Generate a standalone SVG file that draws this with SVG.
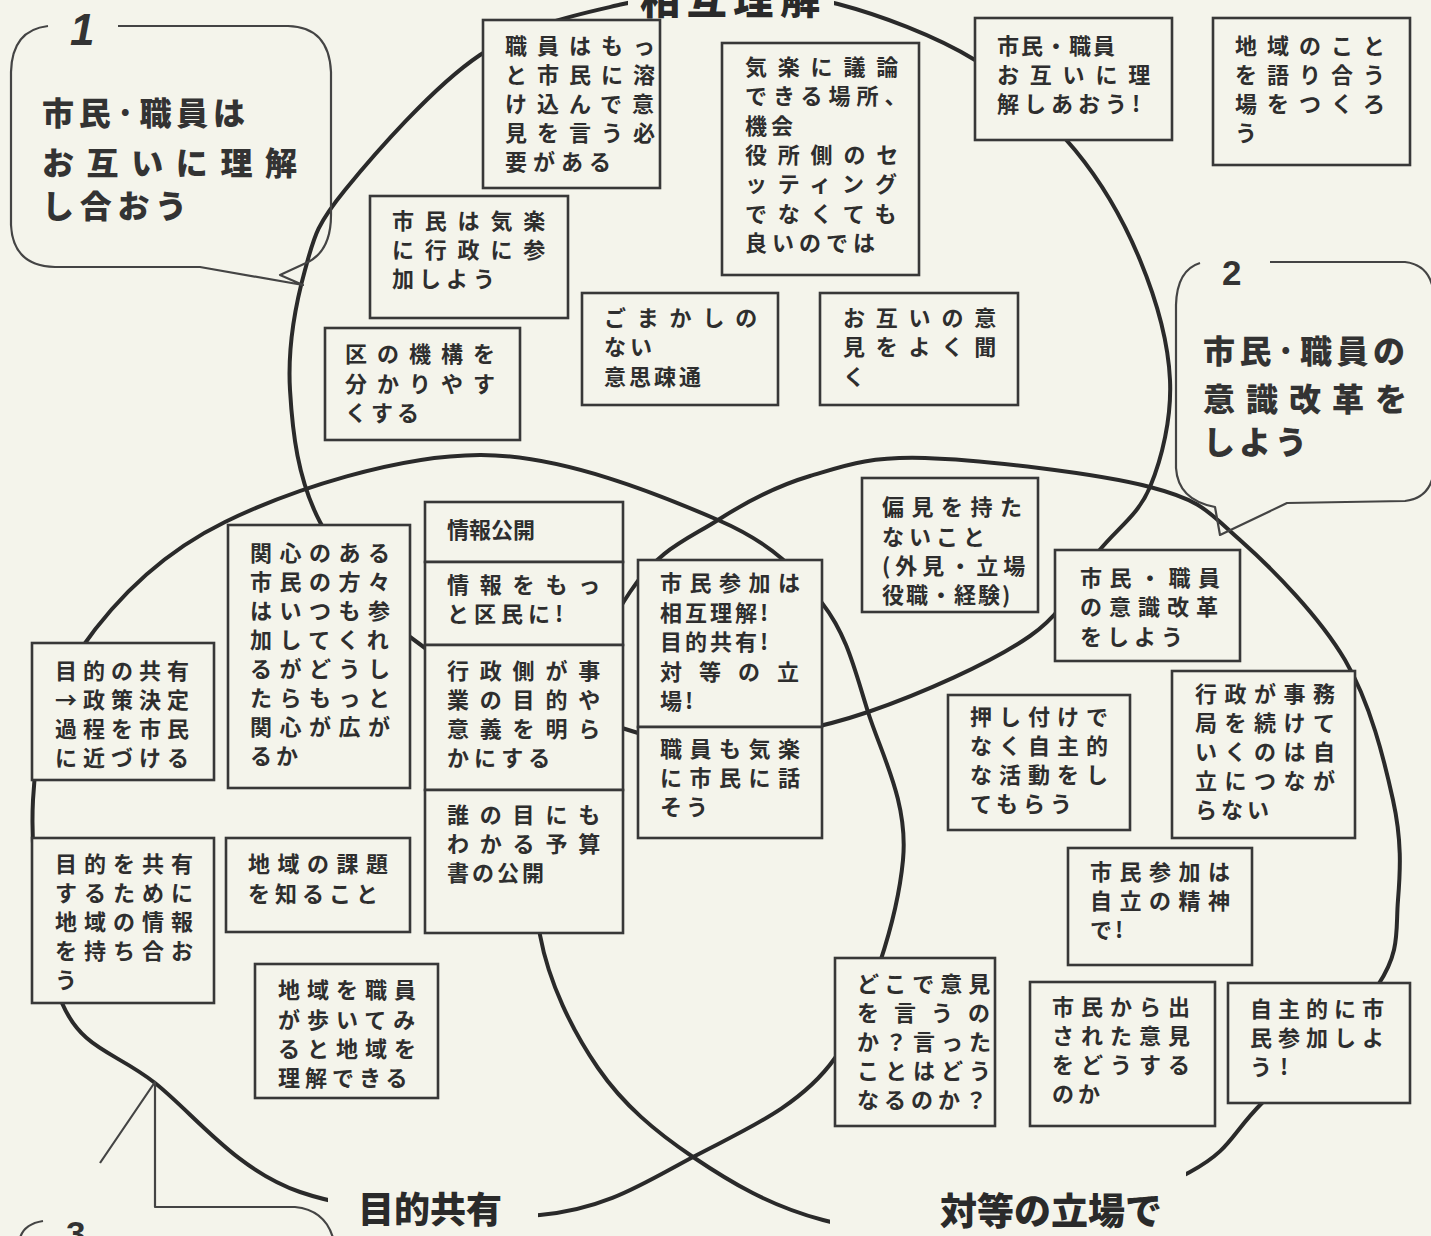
<svg xmlns="http://www.w3.org/2000/svg" width="1431" height="1236" viewBox="0 0 1431 1236">
<defs>
<style>
.bg{fill:#f4f4eb}
.c{fill:none;stroke:#2a2a2a;stroke-width:4;stroke-linecap:round}
.co{fill:none;stroke:#444;stroke-width:2.2;stroke-linejoin:round}
.bx{fill:#f4f4eb;stroke:#383838;stroke-width:2.6}
.t{font-family:"Noto Sans CJK JP","Noto Sans CJK SC",sans-serif;font-size:22px;font-weight:700;fill:#2e2e2e}
.big{font-family:"Noto Sans CJK JP","Noto Sans CJK SC",sans-serif;font-size:32px;font-weight:900;fill:#333}
.lab{font-family:"Noto Sans CJK JP","Noto Sans CJK SC",sans-serif;font-weight:900;fill:#2a2a2a}
.num{font-family:"Liberation Sans",Arial,sans-serif;font-weight:bold;font-style:italic;fill:#333}
.l2{letter-spacing:2px}.l3{letter-spacing:3px}.l4{letter-spacing:4px}.l5{letter-spacing:5px}.l6{letter-spacing:6px}
.l7{letter-spacing:7px}.l75{letter-spacing:7.5px}.l8{letter-spacing:8px}.l10{letter-spacing:10px}.l11{letter-spacing:10.8px}
.l15{letter-spacing:15px}.l17{letter-spacing:17px}
</style>
</defs>
<rect class="bg" x="0" y="0" width="1431" height="1236"/>

<g id="venn-circles">
<path id="circle-mutual" class="c" d="M 730,-4 C 765.8,-4 797.2,-6.7 838,4 C 878.8,14.7 935.5,35.7 975,60 C 1014.5,84.3 1047.5,116.7 1075,150 C 1102.5,183.3 1124.2,221.7 1140,260 C 1155.8,298.3 1168.3,342.2 1170,380 C 1171.7,417.8 1162,458.3 1150,487 C 1138,515.7 1118,527.2 1098,552 C 1078,576.8 1068.3,609.3 1030,636 C 991.7,662.7 919.7,694.3 868,712 C 816.3,729.7 761,739.3 720,742 C 679,744.7 671.2,743.7 622,728 C 572.8,712.3 475.3,682.3 425,648 C 374.7,613.7 342.5,565 320,522 C 297.5,479 292.5,432 290,390 C 287.5,348 295.8,303.3 305,270 C 314.2,236.7 315.8,225.8 345,190 C 374.2,154.2 433.7,86 480,55 C 526.3,24 581.3,13.8 623,4 C 664.7,-5.8 694.2,-4 730,-4 Z"/>
<path id="circle-purpose" class="c" d="M 480,455 C 562.2,454.7 661,495.3 718,520 C 775,544.7 797,571 822,603 C 847,635 854.5,669.2 868,712 C 881.5,754.8 908.5,802.3 903,860 C 897.5,917.7 870,1008.5 835,1058 C 800,1107.5 742.2,1130.8 693,1157 C 643.8,1183.2 605.5,1209.2 540,1215 C 474.5,1220.8 364.2,1214 300,1192 C 235.8,1170 194.7,1114.5 155,1083 C 115.3,1051.5 82.3,1050.2 62,1003 C 41.7,955.8 30,858.8 33,800 C 36,741.2 48,696.3 80,650 C 112,603.7 158.3,554.5 225,522 C 291.7,489.5 397.8,455.3 480,455 Z"/>
<path id="circle-equal" class="c" d="M 925,458 C 981.7,459.8 1097.5,473.3 1150,487 C 1202.5,500.7 1207.5,511.2 1240,540 C 1272.5,568.8 1319.5,616.7 1345,660 C 1370.5,703.3 1384.2,760 1393,800 C 1401.8,840 1400.5,869.2 1398,900 C 1395.5,930.8 1400.7,951.2 1378,985 C 1355.3,1018.8 1293.3,1071.8 1262,1103 C 1230.7,1134.2 1232,1149.2 1190,1172 C 1148,1194.8 1071.2,1232 1010,1240 C 948.8,1248 875.8,1233.8 823,1220 C 770.2,1206.2 730.5,1182.3 693,1157 C 655.5,1131.7 623.5,1105 598,1068 C 572.5,1031 548.8,983 540,935 C 531.2,887 530,837.2 545,780 C 560,722.8 601.2,635.3 630,592 C 658.8,548.7 688,539.3 718,520 C 748,500.7 775.5,486.3 810,476 C 844.5,465.7 868.3,456.2 925,458 Z"/>
</g>

<g id="circle-labels">
<rect class="bg" x="628" y="-10" width="206" height="32"/>
<text class="lab" x="640" y="14" font-size="40" textLength="180" lengthAdjust="spacing">相互理解</text>
<rect class="bg" x="328" y="1172" width="210" height="70"/>
<text class="lab" x="358" y="1223" font-size="36">目的共有</text>
<rect class="bg" x="830" y="1160" width="356" height="80"/>
<text class="lab" x="940" y="1225" font-size="37">対等の立場で</text>
</g>

<g id="callout-1">
<path class="co" d="M 48,26 Q 12,30 11,72 L 11,225 Q 13,266 55,267 L 200,267 L 303,285 L 280,275 L 306,263 Q 331,252 331,215 L 331,72 Q 329,27 288,26 L 118,26"/>
<text class="num" x="70" y="45" font-size="44">1</text>
<text class="big" x="42" y="125" style="letter-spacing:4.7px">市民·職員は</text>
<text class="big" x="42" y="175" style="letter-spacing:12.6px">お互いに理解</text>
<text class="big" x="42" y="218" style="letter-spacing:5.7px">し合おう</text>
</g>

<g id="callout-2">
<path class="co" d="M 1200,263 Q 1177,270 1176,305 L 1176,468 Q 1178,500 1215,507 L 1220,535 L 1287,503 L 1405,501 Q 1431,498 1434,470"/>
<path class="co" d="M 1270,262 L 1405,262 Q 1431,265 1434,295"/>
<text class="num" x="1222" y="285" font-size="35" style="font-style:normal">2</text>
<text class="big" x="1203" y="363" style="letter-spacing:4.5px">市民·職員の</text>
<text class="big" x="1203" y="411" style="letter-spacing:11px">意識改革を</text>
<text class="big" x="1203" y="454" style="letter-spacing:4px">しよう</text>
</g>

<g id="callout-3">
<path class="co" d="M 20,1238 Q 24,1224 43,1221"/>
<path class="co" d="M 100,1163 L 155,1082 L 155,1207 L 295,1207 Q 325,1210 333,1238"/>
<text class="num" x="66" y="1246" font-size="35" style="font-style:normal">3</text>
</g>

<g id="node-1"><rect class="bx" x="483" y="20" width="177" height="168"/>
<text class="t l10" x="505" y="54">職員はもっ</text><text class="t l10" x="505" y="83">と市民に溶</text><text class="t l10" x="505" y="112">け込んで意</text><text class="t l10" x="505" y="141">見を言う必</text><text class="t l6" x="505" y="170">要がある</text></g>

<g id="node-2"><rect class="bx" x="722" y="43" width="197" height="232"/>
<text class="t l11" x="745" y="75">気楽に議論</text><text class="t l6" x="745" y="104">できる場所、</text><text class="t l4" x="745" y="134">機会</text><text class="t l11" x="745" y="163">役所側のセ</text><text class="t l11" x="745" y="192">ッティング</text><text class="t l11" x="745" y="222">でなくても</text><text class="t l5" x="745" y="251">良いのでは</text></g>

<g id="node-3"><rect class="bx" x="975" y="18" width="197" height="122"/>
<text class="t l2" x="997" y="54">市民・職員</text><text class="t l11" x="997" y="83">お互いに理</text><text class="t l5" x="997" y="112">解しあおう!</text></g>

<g id="node-4"><rect class="bx" x="1213" y="18" width="197" height="147"/>
<text class="t l10" x="1235" y="54">地域のこと</text><text class="t l10" x="1235" y="83">を語り合う</text><text class="t l10" x="1235" y="112">場をつくろ</text><text class="t" x="1235" y="141">う</text></g>

<g id="node-5"><rect class="bx" x="370" y="196" width="198" height="122"/>
<text class="t l11" x="392" y="229">市民は気楽</text><text class="t l11" x="392" y="258">に行政に参</text><text class="t l5" x="392" y="287">加しよう</text></g>

<g id="node-6"><rect class="bx" x="325" y="328" width="195" height="112"/>
<text class="t l10" x="345" y="362">区の機構を</text><text class="t l10" x="345" y="392">分かりやす</text><text class="t l4" x="345" y="421">くする</text></g>

<g id="node-7"><rect class="bx" x="582" y="293" width="196" height="112"/>
<text class="t l11" x="604" y="326">ごまかしの</text><text class="t l4" x="604" y="355">ない</text><text class="t l3" x="604" y="385">意思疎通</text></g>

<g id="node-8"><rect class="bx" x="820" y="293" width="198" height="112"/>
<text class="t l11" x="843" y="326">お互いの意</text><text class="t l11" x="843" y="355">見をよく聞</text><text class="t" x="843" y="385">く</text></g>

<g id="node-9"><rect class="bx" x="228" y="525" width="182" height="263"/>
<text class="t l75" x="250" y="561">関心のある</text><text class="t l75" x="250" y="590">市民の方々</text><text class="t l75" x="250" y="619">はいつも参</text><text class="t l75" x="250" y="648">加してくれ</text><text class="t l75" x="250" y="677">るがどうし</text><text class="t l75" x="250" y="706">たらもっと</text><text class="t l75" x="250" y="735">関心が広が</text><text class="t l4" x="250" y="764">るか</text></g>

<g id="node-10"><rect class="bx" x="425" y="502" width="198" height="60"/>
<text class="t" x="447" y="538" font-size="20">情報公開</text></g>

<g id="node-11"><rect class="bx" x="425" y="562" width="198" height="83"/>
<text class="t l11" x="447" y="593">情報をもっ</text><text class="t l5" x="447" y="622">と区民に!</text></g>

<g id="node-12"><rect class="bx" x="425" y="645" width="198" height="145"/>
<text class="t l11" x="447" y="679">行政側が事</text><text class="t l11" x="447" y="708">業の目的や</text><text class="t l11" x="447" y="737">意義を明ら</text><text class="t l5" x="447" y="766">かにする</text></g>

<g id="node-13"><rect class="bx" x="425" y="790" width="198" height="143"/>
<text class="t l11" x="447" y="823">誰の目にも</text><text class="t l11" x="447" y="852">わかる予算</text><text class="t l3" x="447" y="881">書の公開</text></g>

<g id="node-14"><rect class="bx" x="32" y="643" width="182" height="137"/>
<text class="t l6" x="55" y="679">目的の共有</text><text class="t l6" x="55" y="708">→政策決定</text><text class="t l6" x="55" y="737">過程を市民</text><text class="t l6" x="55" y="766">に近づける</text></g>

<g id="node-15"><rect class="bx" x="32" y="838" width="182" height="165"/>
<text class="t l7" x="55" y="872">目的を共有</text><text class="t l7" x="55" y="901">するために</text><text class="t l7" x="55" y="930">地域の情報</text><text class="t l7" x="55" y="959">を持ち合お</text><text class="t" x="55" y="988">う</text></g>

<g id="node-16"><rect class="bx" x="226" y="838" width="184" height="94"/>
<text class="t l75" x="248" y="872">地域の課題</text><text class="t l5" x="248" y="902">を知ること</text></g>

<g id="node-17"><rect class="bx" x="255" y="964" width="183" height="134"/>
<text class="t l7" x="278" y="998">地域を職員</text><text class="t l7" x="278" y="1028">が歩いてみ</text><text class="t l7" x="278" y="1057">ると地域を</text><text class="t l5" x="278" y="1086">理解できる</text></g>

<g id="node-18"><rect class="bx" x="638" y="560" width="184" height="167"/>
<text class="t l75" x="660" y="591">市民参加は</text><text class="t l3" x="660" y="621">相互理解!</text><text class="t l3" x="660" y="650">目的共有!</text><text class="t l17" x="660" y="680">対等の立</text><text class="t l3" x="660" y="709">場!</text></g>

<g id="node-19"><rect class="bx" x="638" y="727" width="184" height="111"/>
<text class="t l75" x="660" y="757">職員も気楽</text><text class="t l75" x="660" y="786">に市民に話</text><text class="t l4" x="660" y="815">そう</text></g>

<g id="node-20"><rect class="bx" x="862" y="478" width="176" height="134"/>
<text class="t l75" x="882" y="515">偏見を持た</text><text class="t l5" x="882" y="545">ないこと</text><text class="t l5" x="882" y="574">(外見・立場</text><text class="t l2" x="882" y="603">役職・経験)</text></g>

<g id="node-21"><rect class="bx" x="1055" y="550" width="185" height="111"/>
<text class="t l75" x="1080" y="586">市民・職員</text><text class="t l7" x="1080" y="615">の意識改革</text><text class="t l5" x="1080" y="645">をしよう</text></g>

<g id="node-22"><rect class="bx" x="948" y="695" width="182" height="135"/>
<text class="t l7" x="970" y="725">押し付けで</text><text class="t l7" x="970" y="754">なく自主的</text><text class="t l7" x="970" y="783">な活動をし</text><text class="t l5" x="970" y="812">てもらう</text></g>

<g id="node-23"><rect class="bx" x="1172" y="671" width="183" height="167"/>
<text class="t l75" x="1195" y="702">行政が事務</text><text class="t l75" x="1195" y="731">局を続けて</text><text class="t l75" x="1195" y="760">いくのは自</text><text class="t l75" x="1195" y="789">立につなが</text><text class="t l4" x="1195" y="818">らない</text></g>

<g id="node-24"><rect class="bx" x="1068" y="848" width="184" height="117"/>
<text class="t l75" x="1090" y="880">市民参加は</text><text class="t l75" x="1090" y="909">自立の精神</text><text class="t l3" x="1090" y="938">で!</text></g>

<g id="node-25"><rect class="bx" x="835" y="958" width="160" height="168"/>
<text class="t l6" x="857" y="992">どこで意見</text><text class="t l15" x="857" y="1021">を言うの</text><text class="t l6" x="857" y="1050">か？言った</text><text class="t l6" x="857" y="1079">ことはどう</text><text class="t l5" x="857" y="1108">なるのか？</text></g>

<g id="node-26"><rect class="bx" x="1030" y="982" width="185" height="144"/>
<text class="t l7" x="1052" y="1015">市民から出</text><text class="t l7" x="1052" y="1044">された意見</text><text class="t l7" x="1052" y="1073">をどうする</text><text class="t l4" x="1052" y="1102">のか</text></g>

<g id="node-27"><rect class="bx" x="1228" y="983" width="182" height="120"/>
<text class="t l6" x="1250" y="1017">自主的に市</text><text class="t l6" x="1250" y="1046">民参加しよ</text><text class="t l8" x="1250" y="1075">う!</text></g>
</svg>
